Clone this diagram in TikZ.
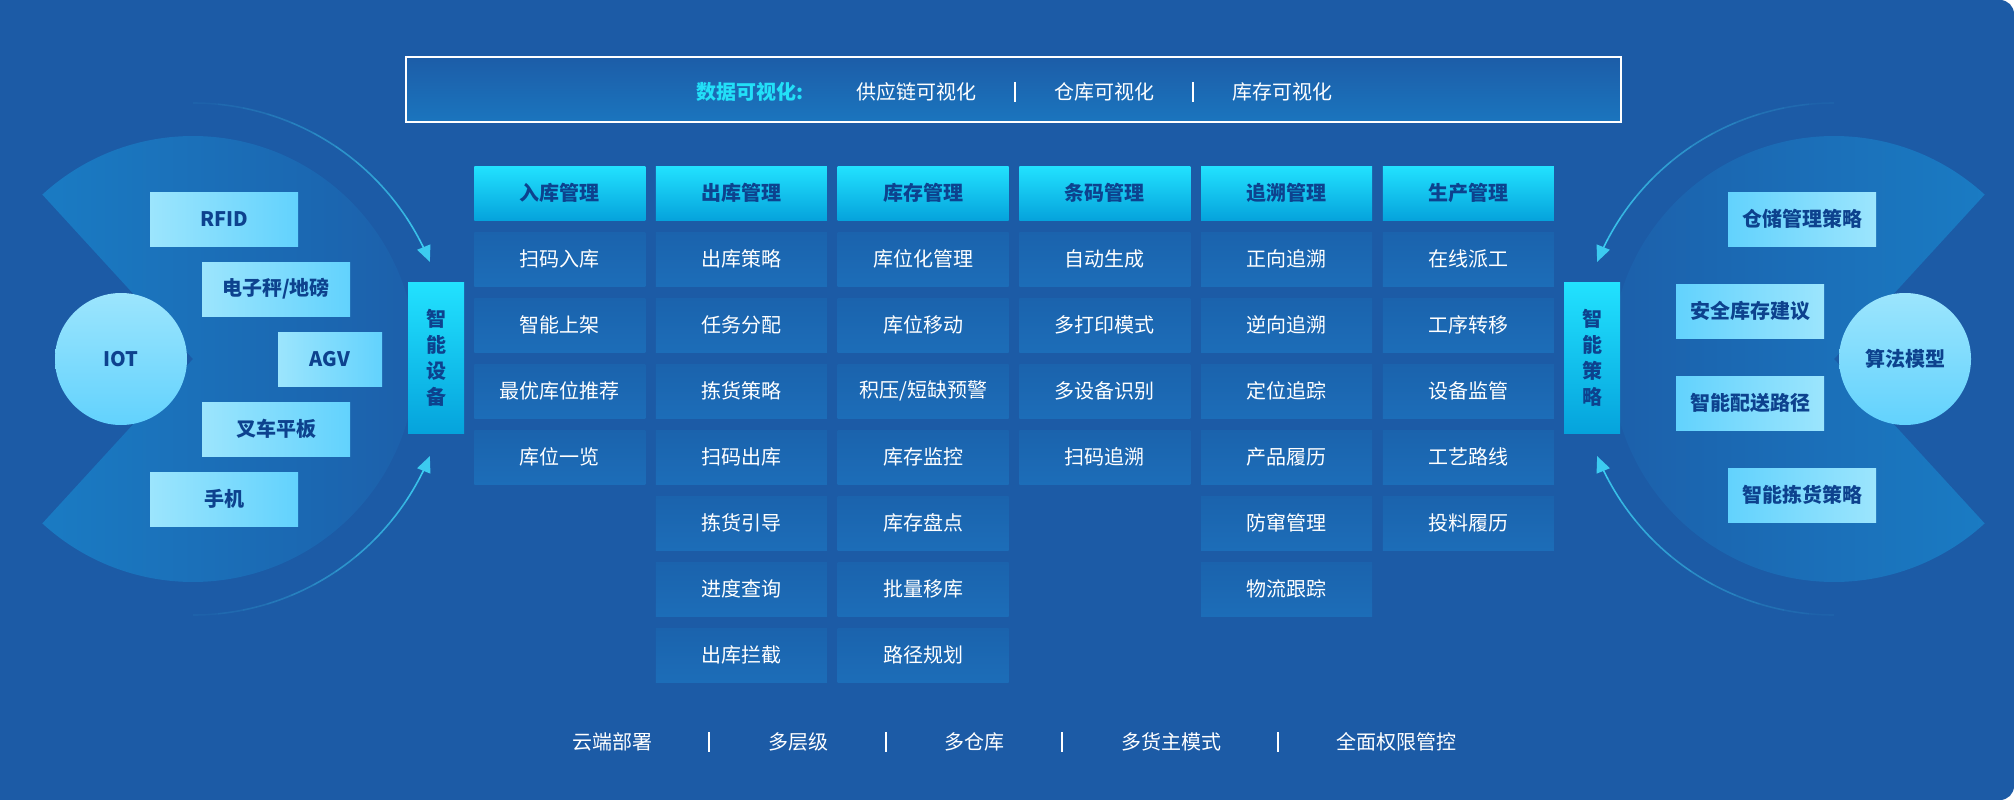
\documentclass[tikz,border=0pt]{standalone}
\usepackage{fontspec}
\setmainfont{Noto Sans CJK SC}
\usetikzlibrary{arrows.meta,calc}
\definecolor{bg}{HTML}{1C5BA6}
\definecolor{shL}{HTML}{1A7BC3}
\definecolor{shR}{HTML}{1C5EA9}
\definecolor{cellA}{HTML}{1B63AD}
\definecolor{cellB}{HTML}{1C6DB8}
\definecolor{hdA}{HTML}{22E2FF}
\definecolor{hdB}{HTML}{05A3DC}
\definecolor{lbA}{HTML}{9CE5FD}
\definecolor{lbB}{HTML}{62D2FD}
\definecolor{navy}{HTML}{0D428E}
\definecolor{cyantxt}{HTML}{22E0F8}
\definecolor{arcc}{HTML}{3CCBF0}
\definecolor{topA}{HTML}{1C5DA8}
\definecolor{topB}{HTML}{1B75BE}
\tikzset{
 txt/.style={font=\fontsize{20}{24}\selectfont},
 btxt/.style={font=\fontsize{20}{24}\selectfont\bfseries},
 cell/.style={txt, text=white, minimum width=171pt, minimum height=54pt, inner sep=0pt, top color=cellA, bottom color=cellB},
 hdr/.style={btxt, text=navy, minimum width=171pt, minimum height=54pt, inner sep=0pt, top color=hdA, bottom color=hdB},
 lbox/.style={btxt, text=navy, minimum height=54pt, inner sep=0pt, left color=lbA, right color=lbB},
 rbox/.style={btxt, text=navy, minimum height=54pt, inner sep=0pt, left color=lbB, right color=lbA},
 bubble/.style={circle, btxt, text=navy, minimum size=132pt, inner sep=0pt, top color=lbA, bottom color=lbB},
 vbox/.style={font=\fontsize{20}{26}\selectfont\bfseries, text=navy, minimum width=56pt, minimum height=151pt, inner sep=0pt, top color=hdA, bottom color=hdB, align=center},
 sepl/.style={white, line width=2pt},
 arcline/.style={arcc, line width=1.6pt},
 plain/.style={txt, text=white, inner sep=0pt},
}
\newcommand\fadearc[4]{%
 \foreach \k in {0,...,11}{%
   \pgfmathsetmacro\aA{#2+(#3-#2)*\k/12}%
   \pgfmathsetmacro\aB{#2+(#3-#2)*(\k+1)/12}%
   \pgfmathsetmacro\op{0.03+0.97*((\k+1)/12)^1.3}%
   \ifnum\k=11
     \draw[arcline, -{Triangle[length=16pt,width=14pt]}] ($(#1)+(\aA:#4)$) arc[start angle=\aA, end angle=\aB, radius=#4];
   \else
     \draw[arcline, draw opacity=\op] ($(#1)+(\aA:#4)$) arc[start angle=\aA, end angle=\aB, radius=#4];
   \fi
 }}
\begin{document}
\begin{tikzpicture}[x=1pt,y=-1pt]
\useasboundingbox (0,0) rectangle (2014,800);
\fill[bg] (0,0) rectangle (1990,800);
\fill[bg, rounded corners=14pt] (1950,0) rectangle (2014,800);
% pac-man shapes
\coordinate (lc) at (193,359);
\coordinate (rc) at (1834,359);
\shade[left color=shL, right color=shR] (lc) -- ($(lc)+(-132.5:223)$) arc[start angle=-132.5, end angle=132.5, radius=223] -- cycle;
\shade[left color=shR, right color=shL] (rc) -- ($(rc)+(-47.5:223)$) arc[start angle=-47.5, end angle=-312.5, radius=223] -- cycle;
% arcs
\fadearc{lc}{-90}{-22.3}{256}
\fadearc{lc}{90}{22.3}{256}
\fadearc{rc}{-90}{-157.7}{256}
\fadearc{rc}{90}{157.7}{256}
% top box
\node[draw=white, line width=1.3pt, top color=topA, bottom color=topB, minimum width=1215pt, minimum height=65pt, inner sep=0pt] (vis) at (1013.5,89.5) {};
\node[btxt, text=cyantxt, inner sep=0pt] (v0) at (750,92) {数据可视化:};
\node[plain] (v1) at (916,92) {供应链可视化};
\node[plain] (v2) at (1104,92) {仓库可视化};
\node[plain] (v3) at (1282,92) {库存可视化};
\draw[sepl] (1015,82) -- (1015,102);
\draw[sepl] (1193,82) -- (1193,102);
% left side
\node[bubble] (iot) at (121,359) {IOT};
\node[lbox, minimum width=148pt] (l1) at (224,219) {RFID};
\node[lbox, minimum width=148pt] (l2) at (276,289) {电子秤/地磅};
\node[lbox, minimum width=104pt] (l3) at (330,359) {AGV};
\node[lbox, minimum width=148pt] (l4) at (276,429) {叉车平板};
\node[lbox, minimum width=148pt] (l5) at (224,499) {手机};
\node[vbox] (dev) at (436,357.5) {智\\能\\设\\备};
% right side
\node[bubble] (alg) at (1905,359) {算法模型};
\node[rbox, minimum width=148pt] (r1) at (1802,219) {仓储管理策略};
\node[rbox, minimum width=148pt] (r2) at (1750,311) {安全库存建议};
\node[rbox, minimum width=148pt] (r3) at (1750,403) {智能配送路径};
\node[rbox, minimum width=148pt] (r4) at (1802,495) {智能拣货策略};
\node[vbox] (stg) at (1592,357.5) {智\\能\\策\\略};
% grid
\node[hdr] (c1h) at (559.75,193) {入库管理};
\node[hdr] (c2h) at (741.45,193) {出库管理};
\node[hdr] (c3h) at (923.15,193) {库存管理};
\node[hdr] (c4h) at (1104.85,193) {条码管理};
\node[hdr] (c5h) at (1286.55,193) {追溯管理};
\node[hdr] (c6h) at (1468.25,193) {生产管理};
\foreach \t [count=\j] in {扫码入库,智能上架,最优库位推荐,库位一览}
  \node[cell] (c1r\j) at (559.75,{259+66*(\j-1)}) {\t};
\foreach \t [count=\j] in {出库策略,任务分配,拣货策略,扫码出库,拣货引导,进度查询,出库拦截}
  \node[cell] (c2r\j) at (741.45,{259+66*(\j-1)}) {\t};
\foreach \t [count=\j] in {库位化管理,库位移动,积压/短缺预警,库存监控,库存盘点,批量移库,路径规划}
  \node[cell] (c3r\j) at (923.15,{259+66*(\j-1)}) {\t};
\foreach \t [count=\j] in {自动生成,多打印模式,多设备识别,扫码追溯}
  \node[cell] (c4r\j) at (1104.85,{259+66*(\j-1)}) {\t};
\foreach \t [count=\j] in {正向追溯,逆向追溯,定位追踪,产品履历,防窜管理,物流跟踪}
  \node[cell] (c5r\j) at (1286.55,{259+66*(\j-1)}) {\t};
\foreach \t [count=\j] in {在线派工,工序转移,设备监管,工艺路线,投料履历}
  \node[cell] (c6r\j) at (1468.25,{259+66*(\j-1)}) {\t};
% bottom
\node[plain] (b1) at (612,742) {云端部署};
\node[plain] (b2) at (798,742) {多层级};
\node[plain] (b3) at (974,742) {多仓库};
\node[plain] (b4) at (1171,742) {多货主模式};
\node[plain] (b5) at (1396,742) {全面权限管控};
\draw[sepl] (709,732) -- (709,752);
\draw[sepl] (886,732) -- (886,752);
\draw[sepl] (1062,732) -- (1062,752);
\draw[sepl] (1278,732) -- (1278,752);
\end{tikzpicture}
\end{document}
